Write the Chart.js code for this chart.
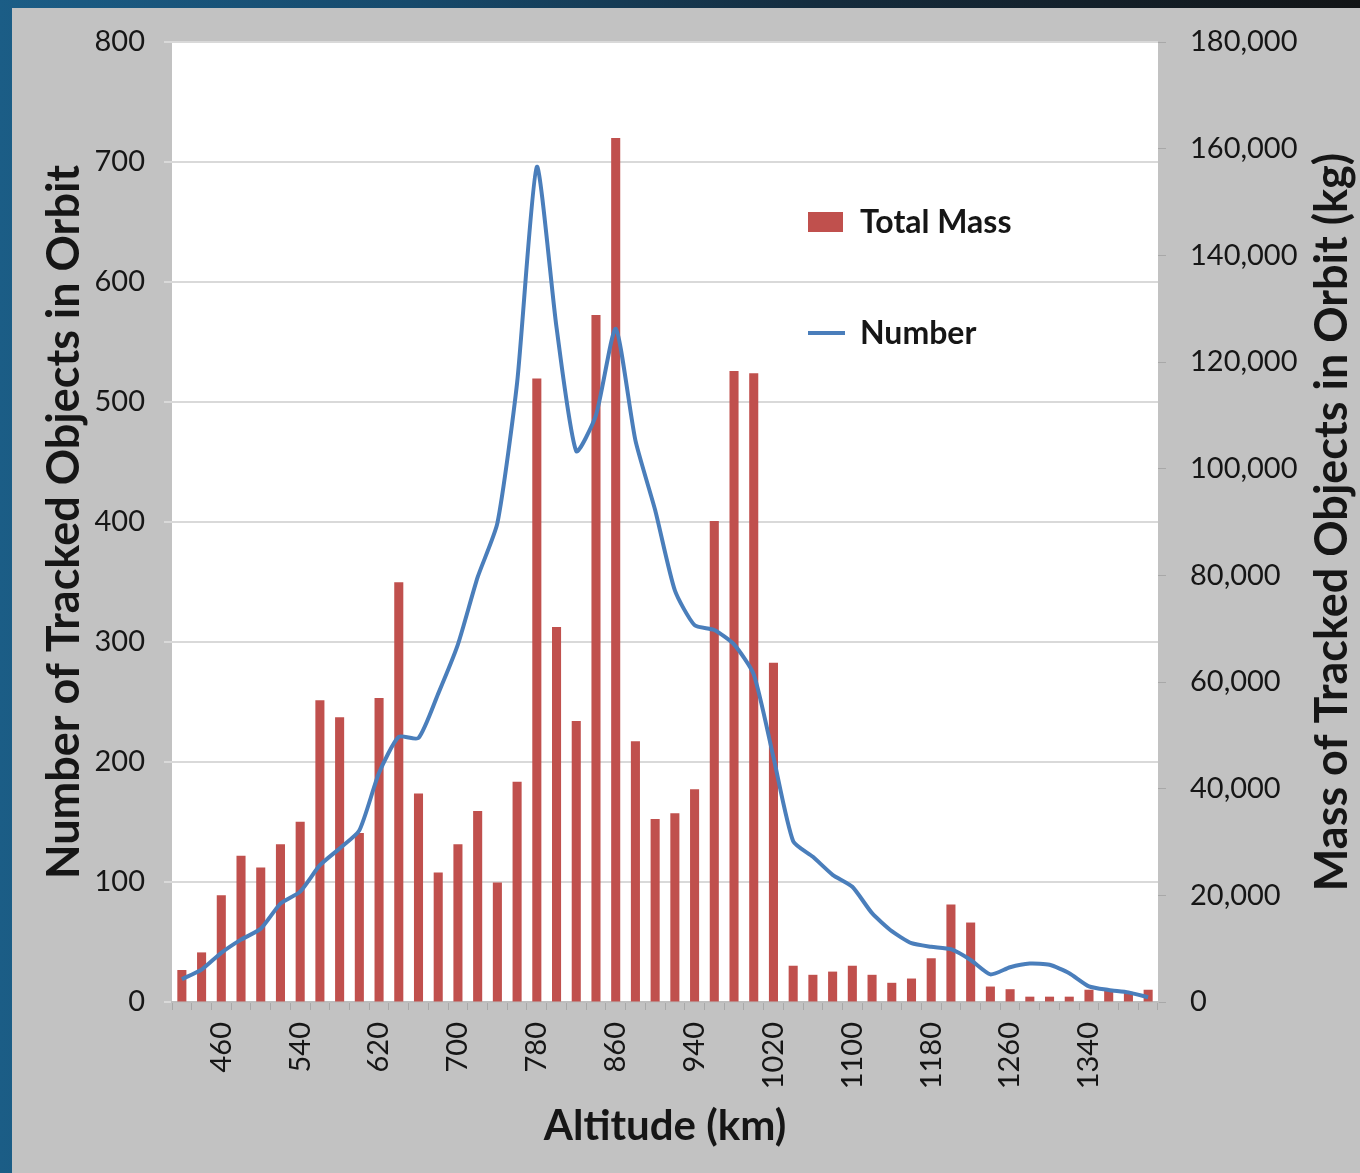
<!DOCTYPE html>
<html>
<head>
<meta charset="utf-8">
<script src="https://cdn.jsdelivr.net/npm/chart.js@4.4.1/dist/chart.umd.min.js"></script>
<style>
  html, body { margin: 0; padding: 0; }
  body {
    width: 1360px; height: 1173px; overflow: hidden;
    background: linear-gradient(to right, #1b5d86 0%, #164a6c 30%, #142c3e 60%, #121416 100%);
    position: relative;
  }
  #panel {
    position: absolute; left: 12px; top: 8px; width: 1348px; height: 1165px;
    background: #c2c2c2;
  }
  canvas { display: block; }
</style>
</head>
<body>
<div id="panel"><canvas id="c" width="1348" height="1165"></canvas></div>
<script>
// Altitude bins (km)
const categories = [420, 440, 460, 480, 500, 520, 540, 560, 580, 600,
                    620, 640, 660, 680, 700, 720, 740, 760, 780, 800,
                    820, 840, 860, 880, 900, 920, 940, 960, 980, 1000,
                    1020, 1040, 1060, 1080, 1100, 1120, 1140, 1160, 1180, 1200,
                    1220, 1240, 1260, 1280, 1300, 1320, 1340, 1360, 1380, 1400];
// Total mass of tracked objects (kg), right axis
const totalMass = [6000, 9300, 20000, 27400, 25200, 29600, 33800, 56600, 53400, 31700,
                   57000, 78700, 39100, 24300, 29600, 35800, 22400, 41300, 116900, 70300,
                   52700, 128800, 162000, 48900, 34300, 35400, 39900, 90200, 118300, 117900,
                   63600, 6800, 5100, 5700, 6800, 5100, 3600, 4400, 8200, 18300,
                   14900, 2900, 2400, 1000, 1000, 1000, 2300, 2300, 1900, 2300];
// Number of tracked objects, left axis
const numberObjects = [19, 27, 41, 52, 61, 82, 92, 114, 128, 143,
                       191, 221, 220, 257, 298, 354, 399, 516, 696, 562,
                       459, 489, 561, 468, 410, 343, 314, 310, 298, 273,
                       204, 134, 121, 106, 96, 74, 59, 49, 46, 44,
                       35, 23, 29, 32, 31, 24, 13, 10, 8, 4];
// Labelled altitude ticks
const xTickLabels = [460, 540, 620, 700, 780, 860, 940, 1020, 1100, 1180, 1260, 1340];

const leftTitle = 'Number of Tracked Objects in Orbit';
const rightTitle = 'Mass of Tracked Objects in Orbit (kg)';
const xTitle = 'Altitude (km)';

const FONT = 'Lato';
const TXT = '#161616';

function noPad(s) {
  s.paddingTop = 0; s.paddingBottom = 0; s.paddingLeft = 0; s.paddingRight = 0;
}

const decor = {
  id: 'decor',
  beforeDraw(chart) {
    const {ctx, chartArea: a} = chart;
    ctx.save();
    ctx.fillStyle = '#ffffff';
    ctx.fillRect(a.left, a.top, a.right - a.left, a.bottom - a.top);
    ctx.restore();
  },
  afterDraw(chart) {
    const {ctx, chartArea: a} = chart;
    ctx.save();
    // right axis title, reading bottom to top
    ctx.fillStyle = TXT;
    ctx.font = 'bold 45px ' + FONT;
    ctx.textAlign = 'center';
    ctx.textBaseline = 'middle';
    ctx.translate(chart.width - 28, (a.top + a.bottom) / 2);
    ctx.rotate(-Math.PI / 2);
    ctx.fillText(rightTitle, 0, 0);
    ctx.restore();

    // legend
    ctx.save();
    const ds = chart.data.datasets;
    const lx = a.left + 636;
    ctx.font = 'bold 32px ' + FONT;
    ctx.textBaseline = 'middle';
    ctx.textAlign = 'left';
    // bar entry
    ctx.fillStyle = ds[0].backgroundColor;
    ctx.fillRect(lx, a.top + 170, 35, 20);
    ctx.fillStyle = TXT;
    ctx.fillText(ds[0].label, lx + 52, a.top + 181);
    // line entry
    ctx.strokeStyle = ds[1].borderColor;
    ctx.lineWidth = 4;
    ctx.beginPath();
    ctx.moveTo(lx, a.top + 291);
    ctx.lineTo(lx + 37, a.top + 291);
    ctx.stroke();
    ctx.fillStyle = TXT;
    ctx.fillText(ds[1].label, lx + 52, a.top + 292);
    ctx.restore();
  }
};

new Chart(document.getElementById('c'), {
  type: 'bar',
  data: {
    labels: categories,
    datasets: [
      {
        type: 'bar',
        label: 'Total Mass',
        data: totalMass,
        yAxisID: 'y1',
        backgroundColor: '#c0504d',
        categoryPercentage: 1.0,
        barPercentage: 0.46,
        order: 2
      },
      {
        type: 'line',
        label: 'Number',
        data: numberObjects,
        yAxisID: 'y',
        borderColor: '#4a7ebb',
        borderWidth: 4,
        pointRadius: 0,
        tension: 0.2,
        fill: false,
        order: 1
      }
    ]
  },
  options: {
    responsive: false,
    animation: false,
    layout: { autoPadding: false, padding: { top: 34, left: 0, right: 0, bottom: 0 } },
    plugins: {
      legend: { display: false },
      tooltip: { enabled: false }
    },
    scales: {
      x: {
        offset: true,
        grid: { display: true, drawOnChartArea: false, drawTicks: true, tickLength: 8, offset: true, color: '#a8a8a8', lineWidth: 1 },
        border: { display: true, color: '#bdbdbd', width: 2 },
        ticks: {
          autoSkip: false,
          minRotation: 90, maxRotation: 90,
          padding: 12,
          color: TXT,
          font: { family: FONT, size: 29 },
          callback: function (v, i) {
            const c = categories[i];
            return xTickLabels.includes(c) ? String(c) : '';
          }
        },
        title: {
          display: true, text: xTitle, color: TXT,
          font: { family: FONT, size: 42, weight: 'bold' },
          padding: { top: 0, bottom: 21 }
        },
        afterFit(s) { s.height = 171; noPad(s); }
      },
      y: {
        position: 'left',
        min: 0, max: 800,
        grid: { color: '#d9d9d9', lineWidth: 2, tickLength: 8, drawTicks: true },
        border: { display: false },
        ticks: { stepSize: 100, padding: 19, color: TXT, font: { family: FONT, size: 29 } },
        title: {
          display: true, text: leftTitle, color: TXT,
          font: { family: FONT, size: 45, weight: 'bold' },
          padding: { top: 25, bottom: 0 }
        },
        afterFit(s) { s.width = 160; noPad(s); }
      },
      y1: {
        position: 'right',
        min: 0, max: 180000,
        grid: { drawOnChartArea: false, drawTicks: true, tickLength: 8, color: '#a8a8a8' },
        border: { display: false },
        ticks: {
          stepSize: 20000, padding: 24, color: TXT, font: { family: FONT, size: 29 },
          callback: v => v.toLocaleString('en-US')
        },
        afterFit(s) { s.width = 202; noPad(s); }
      }
    }
  },
  plugins: [decor]
});
</script>
</body>
</html>
